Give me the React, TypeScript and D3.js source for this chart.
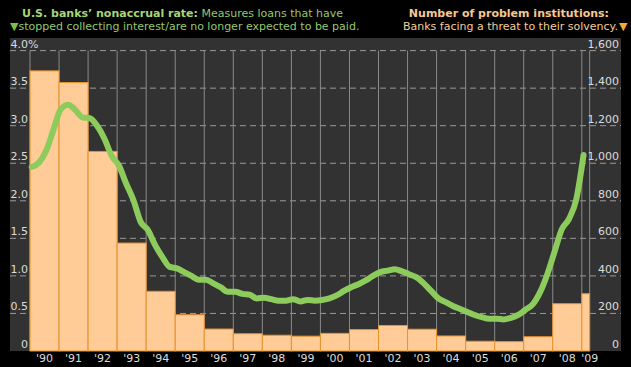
import React from "react";
import * as d3 from "d3";

const years: number[] = [1990,1991,1992,1993,1994,1995,1996,1997,1998,1999,2000,2001,2002,2003,2004,2005,2006,2007,2008,2009];
const yearLabels: string[] = ["'90","'91","'92","'93","'94","'95","'96","'97","'98","'99","'00","'01","'02","'03","'04","'05","'06","'07","'08","'09"];
const problemBanks: number[] = [1492,1430,1063,575,318,193,117,92,84,79,94,114,136,116,80,52,50,76,252,305];
// share of year covered by each bar (2009 = first quarter only)
const barSpan: number[] = [1,1,1,1,1,1,1,1,1,1,1,1,1,1,1,1,1,1,1,0.27];

// quarterly nonaccrual rate (%), 1990 Q1 .. 2009 Q1
const nonaccrual: number[] = [
  2.45,2.51,2.67,2.95, 3.22,3.28,3.21,3.11, 3.10,3.00,2.83,2.60, 2.47,2.23,2.01,1.72,
  1.61,1.41,1.25,1.12, 1.10,1.05,1.00,0.95, 0.95,0.90,0.85,0.79, 0.79,0.76,0.75,0.70,
  0.71,0.69,0.67,0.67, 0.69,0.66,0.68,0.67, 0.68,0.70,0.74,0.80, 0.85,0.89,0.94,1.00,
  1.05,1.07,1.09,1.06, 1.02,0.98,0.90,0.80, 0.70,0.65,0.60,0.56, 0.52,0.48,0.45,0.43,
  0.43,0.42,0.44,0.48, 0.55,0.62,0.78,1.02, 1.32,1.62,1.76,2.02, 2.61
];

const leftTicks: number[] = [0,0.5,1.0,1.5,2.0,2.5,3.0,3.5,4.0];
const leftTickLabels: string[] = ["0","0.5","1.0","1.5","2.0","2.5","3.0","3.5","4.0"];
const rightTicks: number[] = [0,200,400,600,800,1000,1200,1400,1600];
const rightTickLabels: string[] = ["0","200","400","600","800","1,000","1,200","1,400","1,600"];

const W = 631, H = 367;
const FONT = "'DejaVu Sans', Verdana, sans-serif";

export default function App() {
  const x = d3.scaleLinear().domain([1990, 2009]).range([30, 581.8]);
  const yL = d3.scaleLinear().domain([0, 4]).range([351, 50.6]);
  const yR = d3.scaleLinear().domain([0, 1600]).range([351, 50.6]);

  const linePts: [number, number][] = nonaccrual.map((v, i) => [1990.06 + i * 0.25, v]);
  const lineGen = d3.line<[number, number]>()
    .x(d => x(d[0]))
    .y(d => yL(d[1]))
    .curve(d3.curveMonotoneX);

  const vLines: number[] = years.map(yv => x(yv)).concat([x(2009 + barSpan[barSpan.length - 1])]);

  return (
    <svg width={W} height={H} style={{ position: "absolute", left: 0, top: 0, background: "#000" }}>
      <rect x={0} y={0} width={W} height={H} fill="#000" />
      {/* titles */}
      <text x={22} y={17} fontFamily={FONT} fontSize={11} fill="#96c86e">
        <tspan fontWeight="bold" fill="#a6d676">U.S. banks’ nonaccrual rate:</tspan>
        <tspan> Measures loans that have</tspan>
      </text>
      <text x={10} y={29.5} fontFamily={FONT} fontSize={11} fill="#96c86e">
        <tspan fill="#7cc04a">▼</tspan>
        <tspan>stopped collecting interest/are no longer expected to be paid.</tspan>
      </text>
      <text x={609} y={17} textAnchor="end" fontFamily={FONT} fontSize={11} fontWeight="bold" fill="#f7c88c">
        Number of problem institutions:
      </text>
      <text x={618} y={29.5} textAnchor="end" fontFamily={FONT} fontSize={11} fill="#f5cc98">
        Banks facing a threat to their solvency.
      </text>
      <text x={619} y={29.5} fontFamily={FONT} fontSize={11} fill="#f5a833">▼</text>

      {/* panel */}
      <rect x={10} y={38} width={611} height={313} fill="#323232" />

      {/* horizontal dashed gridlines */}
      {leftTicks.filter(t => t > 0).map(t => (
        <line key={"h" + t} x1={10} x2={621} y1={yL(t)} y2={yL(t)} stroke="#9a9a9a" strokeWidth={1} strokeDasharray="6,4" />
      ))}
      {/* vertical gridlines */}
      {vLines.map((vx, i) => (
        <line key={"v" + i} x1={vx} x2={vx} y1={yL(4)} y2={351} stroke="#8a8a8a" strokeWidth={1} />
      ))}

      {/* bars */}
      {years.map((yv, i) => (
        <rect key={"b" + yv}
          x={x(yv)} y={yR(problemBanks[i])}
          width={x(yv + barSpan[i]) - x(yv)} height={351 - yR(problemBanks[i])}
          fill="#ffcb96" stroke="#e8922e" strokeWidth={1} />
      ))}

      {/* line */}
      <path d={lineGen(linePts) || ""} fill="none" stroke="#8ccb5c" strokeWidth={6} strokeLinejoin="round" strokeLinecap="round" />

      {/* left axis labels */}
      {leftTicks.map((t, i) => (
        <text key={"l" + t} x={28} y={yL(t) - 3} textAnchor="end" fontFamily={FONT} fontSize={11} fill="#dcdcdc">
          {leftTickLabels[i]}
        </text>
      ))}
      <text x={28} y={yL(4) - 3} fontFamily={FONT} fontSize={11} fill="#dcdcdc">%</text>

      {/* right axis labels */}
      {rightTicks.map((t, i) => (
        <text key={"r" + t} x={619} y={yR(t) - 3} textAnchor="end" fontFamily={FONT} fontSize={11} fill="#dcdcdc">
          {rightTickLabels[i]}
        </text>
      ))}

      {/* x axis labels */}
      {years.map((yv, i) => (
        <text key={"x" + yv} x={i === years.length - 1 ? x(yv) + 8 : x(yv + 0.5)} y={362} textAnchor="middle" fontFamily={FONT} fontSize={11} fill="#dcdcdc">
          {yearLabels[i]}
        </text>
      ))}
    </svg>
  );
}
